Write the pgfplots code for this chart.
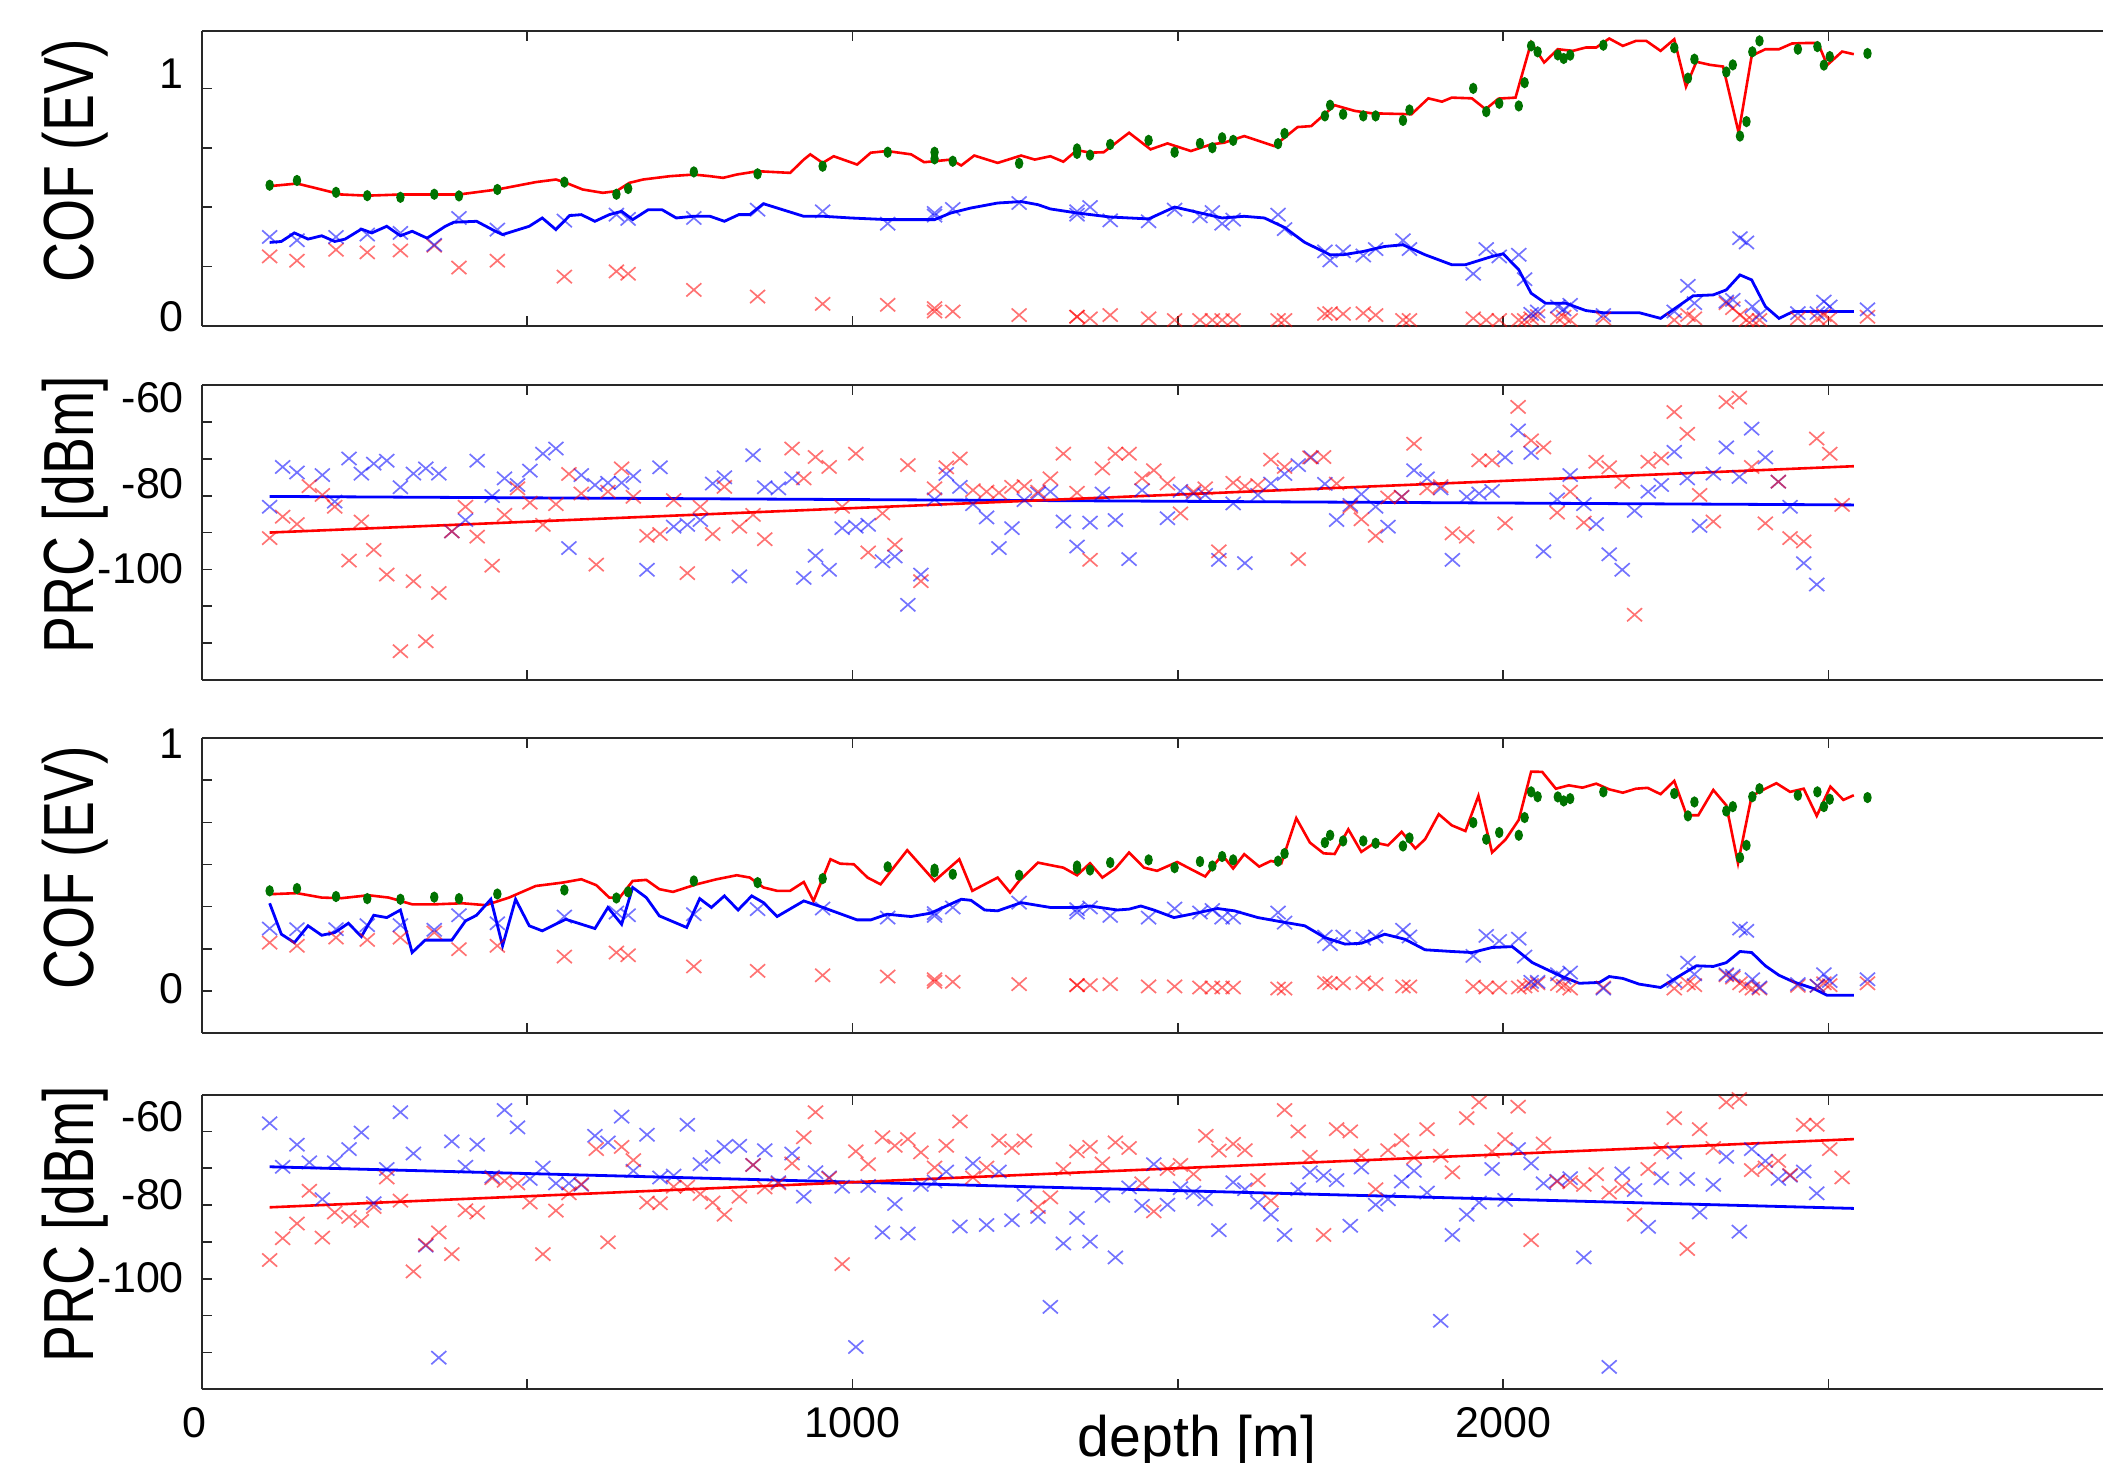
\documentclass[border=0pt]{standalone}
\usepackage{pgfplots}
\pgfplotsset{compat=1.18}
\usepackage{pgfplotstable}
\usepackage{fontspec}
\setmainfont{Liberation Sans}
\definecolor{cred}{RGB}{255,0,0}
\definecolor{cblue}{RGB}{0,0,255}
\definecolor{cgreen}{RGB}{0,115,0}
\definecolor{cframe}{RGB}{40,40,40}

% depth, green/blue/red for COF panel 1 and panel 3
\pgfplotstableread{
d g1 b1 r1 g3 b3 r3
104 0.593 0.375 0.293 0.475 0.296 0.229
146 0.613 0.361 0.275 0.486 0.293 0.214
206 0.563 0.375 0.321 0.448 0.293 0.253
254 0.549 0.385 0.310 0.438 0.312 0.242
305 0.542 0.392 0.318 0.435 0.312 0.253
357 0.555 0.342 0.338 0.445 0.290 0.277
395 0.548 0.455 0.246 0.438 0.359 0.198
454 0.575 0.406 0.275 0.460 0.321 0.214
557 0.606 0.444 0.208 0.479 0.353 0.163
637 0.555 0.469 0.230 0.441 0.372 0.182
655 0.579 0.451 0.220 0.470 0.359 0.169
756 0.649 0.455 0.152 0.522 0.364 0.116
854 0.641 0.490 0.124 0.514 0.388 0.095
954 0.673 0.483 0.093 0.533 0.391 0.074
1054 0.732 0.431 0.089 0.589 0.348 0.068
1126 0.732 0.476 0.075 0.578 0.369 0.055
1126 0.704 0.465 0.061 0.565 0.356 0.043
1154 0.694 0.493 0.061 0.554 0.396 0.043
1256 0.685 0.518 0.046 0.549 0.419 0.032
1345 0.746 0.483 0.039 0.593 0.372 0.027
1345 0.727 0.469 0.039 0.581 0.388 0.027
1365 0.720 0.501 0.032 0.574 0.396 0.027
1396 0.765 0.445 0.046 0.609 0.356 0.032
1455 0.782 0.441 0.032 0.622 0.348 0.021
1495 0.732 0.490 0.025 0.585 0.391 0.021
1534 0.769 0.462 0.025 0.614 0.372 0.016
1553 0.751 0.480 0.025 0.593 0.384 0.016
1568 0.793 0.431 0.025 0.638 0.348 0.016
1585 0.782 0.448 0.025 0.622 0.348 0.016
1654 0.768 0.469 0.025 0.616 0.372 0.011
1664 0.811 0.408 0.025 0.652 0.324 0.011
1726 0.885 0.314 0.051 0.704 0.258 0.040
1734 0.930 0.276 0.054 0.739 0.222 0.036
1754 0.892 0.314 0.051 0.712 0.258 0.036
1785 0.885 0.297 0.054 0.712 0.248 0.040
1804 0.885 0.324 0.046 0.701 0.258 0.032
1846 0.866 0.361 0.025 0.688 0.290 0.021
1856 0.910 0.324 0.025 0.726 0.258 0.021
1954 1.001 0.220 0.032 0.799 0.166 0.021
1974 0.903 0.324 0.025 0.720 0.261 0.016
1994 0.938 0.293 0.025 0.752 0.237 0.016
2024 0.927 0.300 0.025 0.739 0.248 0.016
2033 1.025 0.197 0.025 0.823 0.163 0.021
2043 1.180 0.051 0.032 0.945 0.043 0.027
2053 1.155 0.061 0.042 0.922 0.043 0.036
2084 1.142 0.082 0.032 0.921 0.079 0.032
2093 1.127 0.070 0.039 0.902 0.063 0.024
2103 1.141 0.089 0.025 0.913 0.087 0.011
2154 1.183 0.046 0.032 0.945 0.011 0.016
2263 1.172 0.061 0.025 0.937 0.047 0.011
2284 1.044 0.169 0.046 0.831 0.134 0.036
2294 1.124 0.096 0.032 0.897 0.079 0.027
2343 1.070 0.103 0.096 0.854 0.079 0.074
2353 1.100 0.110 0.075 0.875 0.071 0.063
2364 0.800 0.370 0.046 0.633 0.296 0.036
2374 0.861 0.352 0.025 0.691 0.285 0.024
2383 1.155 0.082 0.025 0.922 0.055 0.011
2394 1.201 0.046 0.025 0.960 0.016 0.011
2453 1.166 0.054 0.032 0.929 0.032 0.024
2483 1.177 0.054 0.032 0.945 0.024 0.024
2493 1.099 0.103 0.046 0.875 0.079 0.036
2502 1.135 0.082 0.032 0.910 0.047 0.027
2560 1.148 0.070 0.039 0.918 0.055 0.036
}\cof

\pgfplotstableread{
x y
104 -83.0
124 -72.2
146 -73.7
185 -74.4
204 -81.6
226 -69.9
245 -74.0
264 -71.3
284 -70.5
305 -77.7
325 -74.0
344 -72.6
364 -74.0
384 -89.7
405 -86.6
423 -70.5
446 -80.1
465 -75.3
485 -77.1
504 -73.2
524 -68.6
544 -67.2
564 -94.2
583 -74.4
604 -77.1
624 -76.5
645 -76.5
663 -74.7
684 -100.1
704 -72.3
725 -88.4
746 -87.9
766 -86.6
785 -76.7
803 -75.0
826 -101.9
847 -69.0
865 -77.7
886 -78.0
907 -75.3
925 -102.3
943 -96.3
964 -100.1
984 -88.8
1005 -88.4
1024 -87.9
1046 -97.8
1065 -96.5
1085 -109.6
1105 -101.4
1126 -81.0
1144 -74.1
1165 -77.6
1185 -82.3
1206 -85.9
1225 -94.2
1245 -88.8
1264 -81.2
1285 -79.4
1304 -78.9
1324 -87.0
1345 -93.8
1365 -87.3
1384 -79.4
1404 -86.6
1425 -97.2
1445 -78.5
1484 -86.1
1504 -78.7
1524 -79.4
1542 -79.8
1563 -97.4
1585 -82.1
1603 -98.3
1623 -79.8
1643 -76.7
1664 -74.1
1685 -71.7
1705 -69.6
1726 -76.8
1744 -86.6
1765 -82.5
1782 -79.6
1804 -83.0
1823 -88.4
1844 -80.3
1863 -73.1
1883 -75.3
1904 -78.0
1922 -97.4
1944 -80.3
1963 -79.4
1983 -78.7
2003 -69.6
2023 -62.3
2043 -68.4
2062 -95.1
2083 -81.0
2103 -74.4
2124 -82.3
2143 -87.7
2163 -95.9
2183 -100.1
2202 -84.1
2223 -78.9
2243 -77.1
2263 -68.1
2283 -75.3
2302 -88.2
2323 -74.0
2343 -66.9
2363 -74.9
2382 -61.8
2403 -69.6
2423 -76.2
2441 -83.0
2462 -98.3
2482 -104.1
}\prcBlueA

\pgfplotstableread{
x y
104 -91.5
124 -85.7
146 -87.7
165 -77.4
185 -79.8
204 -83.0
226 -97.6
245 -87.0
264 -94.7
284 -101.4
305 -122.2
325 -103.2
344 -119.5
364 -106.4
384 -89.7
405 -83.0
423 -91.1
446 -99.0
465 -85.2
485 -78.0
504 -81.9
524 -87.9
544 -82.3
564 -74.1
583 -79.4
606 -98.7
624 -78.9
645 -72.6
663 -80.3
684 -90.9
704 -90.4
725 -81.2
746 -101.0
766 -83.0
785 -90.4
803 -77.6
826 -88.4
847 -85.2
865 -91.8
907 -67.2
925 -75.3
943 -69.5
964 -72.2
984 -83.0
1005 -68.6
1024 -95.4
1046 -84.8
1065 -93.3
1085 -71.7
1105 -103.2
1126 -78.0
1144 -72.3
1165 -69.9
1185 -78.5
1206 -78.9
1225 -79.2
1245 -77.6
1264 -77.4
1285 -78.9
1304 -75.3
1324 -68.6
1345 -79.2
1365 -97.4
1384 -72.6
1404 -68.6
1425 -68.6
1445 -75.3
1463 -73.1
1484 -76.7
1504 -84.8
1524 -78.9
1542 -78.0
1563 -95.1
1585 -76.5
1603 -77.4
1623 -77.1
1643 -70.2
1664 -72.2
1685 -97.2
1703 -69.6
1724 -69.5
1744 -76.7
1765 -83.0
1782 -86.4
1804 -90.9
1823 -80.5
1844 -80.3
1863 -65.9
1883 -78.0
1904 -77.4
1922 -90.2
1944 -91.1
1963 -70.4
1983 -70.4
2003 -87.5
2023 -55.9
2043 -65.0
2062 -66.9
2083 -84.6
2103 -78.9
2124 -87.3
2143 -70.8
2163 -72.3
2183 -76.2
2202 -112.3
2223 -70.8
2243 -69.9
2263 -57.3
2283 -63.2
2302 -79.8
2323 -87.0
2343 -54.6
2363 -53.4
2382 -72.2
2403 -87.5
2423 -76.2
2441 -91.5
2462 -92.4
2482 -64.5
2502 -68.6
2521 -82.5
}\prcRedA

\pgfplotstableread{
x y
104 -57.8
124 -69.6
146 -63.6
165 -68.4
185 -78.4
204 -68.4
226 -64.8
245 -60.3
264 -79.5
284 -70.2
305 -54.8
325 -66.0
344 -91.0
364 -121.4
384 -62.7
405 -69.6
423 -63.6
446 -72.3
465 -54.2
485 -58.9
504 -72.9
524 -69.8
544 -74.1
564 -74.1
583 -74.5
604 -61.2
624 -63.0
645 -56.0
663 -70.7
684 -60.9
704 -72.5
725 -72.0
746 -58.2
766 -68.9
785 -66.9
803 -64.2
826 -63.9
847 -69.1
865 -65.1
886 -73.8
907 -66.0
925 -77.7
943 -71.1
964 -72.5
984 -75.0
1005 -118.5
1024 -74.8
1046 -87.4
1065 -79.7
1085 -87.7
1105 -74.5
1126 -73.6
1144 -70.9
1165 -85.8
1185 -68.7
1206 -85.4
1225 -70.9
1245 -84.1
1264 -77.2
1285 -83.2
1304 -107.6
1324 -90.4
1345 -83.5
1365 -89.9
1384 -77.5
1404 -94.2
1425 -75.2
1445 -80.2
1463 -68.9
1484 -79.9
1504 -75.4
1524 -76.6
1542 -78.4
1563 -86.8
1585 -73.8
1603 -75.7
1623 -79.3
1643 -82.6
1664 -88.1
1685 -75.7
1703 -71.1
1724 -72.0
1744 -73.2
1765 -85.6
1782 -69.8
1804 -79.9
1823 -78.4
1844 -73.6
1863 -70.7
1883 -76.6
1904 -111.4
1922 -88.1
1944 -82.6
1963 -79.3
1983 -70.2
2003 -78.6
2023 -64.8
2043 -68.7
2062 -74.1
2083 -73.4
2103 -72.7
2124 -94.2
2163 -123.9
2183 -71.4
2202 -75.9
2223 -85.9
2243 -72.7
2263 -65.7
2283 -72.9
2302 -82.0
2323 -74.5
2343 -66.9
2363 -87.2
2382 -64.8
2403 -68.0
2423 -72.9
2441 -72.0
2462 -70.9
2482 -76.8
}\prcBlueB

\pgfplotstableread{
x y
104 -94.9
124 -89.0
146 -85.0
165 -76.1
185 -88.8
204 -82.0
226 -83.2
245 -84.3
264 -80.5
284 -72.5
305 -78.8
325 -98.0
344 -90.8
364 -87.4
384 -93.3
405 -81.4
423 -82.0
446 -72.7
465 -73.4
485 -74.1
504 -79.3
524 -93.3
544 -81.5
564 -76.8
583 -74.3
606 -64.8
624 -90.1
645 -64.2
663 -67.8
684 -79.3
704 -79.5
725 -75.0
746 -75.0
766 -77.0
785 -79.3
803 -82.6
826 -77.7
847 -69.1
865 -75.2
886 -74.1
907 -68.7
925 -61.6
943 -54.8
964 -72.7
984 -96.0
1005 -65.4
1024 -68.9
1046 -61.6
1065 -63.9
1085 -62.1
1105 -65.7
1126 -69.8
1144 -63.9
1165 -57.3
1185 -72.5
1206 -69.8
1225 -62.5
1245 -64.5
1264 -62.5
1285 -80.5
1304 -77.9
1324 -70.2
1345 -65.4
1365 -64.2
1384 -68.7
1404 -63.0
1425 -64.5
1445 -74.1
1463 -81.7
1484 -70.2
1504 -69.1
1524 -71.6
1543 -61.2
1563 -65.2
1585 -63.4
1603 -65.1
1623 -73.2
1643 -78.8
1664 -54.2
1685 -60.0
1703 -66.9
1724 -88.1
1744 -59.4
1765 -60.0
1782 -66.6
1804 -75.7
1823 -65.1
1844 -62.4
1863 -67.1
1883 -59.4
1904 -66.6
1922 -71.1
1944 -56.4
1963 -52.1
1983 -65.4
2003 -62.1
2023 -53.3
2043 -89.5
2062 -63.3
2083 -73.6
2103 -73.8
2124 -74.5
2143 -71.6
2163 -76.6
2183 -75.0
2202 -82.6
2223 -70.2
2243 -64.8
2263 -56.4
2283 -91.9
2302 -59.4
2323 -64.5
2343 -52.1
2363 -51.2
2382 -70.5
2403 -69.8
2423 -68.0
2441 -71.8
2462 -58.2
2482 -58.2
2502 -64.8
2521 -72.5
}\prcRedB

\pgfplotsset{
  panel/.style={
    scale only axis, width=475.25pt, height=73.7pt,
    xmin=0, xmax=2922,
    anchor=south west,
    axis x line*=box, axis y line*=left,
    axis line style={draw=cframe, line width=0.5pt},
    tick align=inside, major tick length=2.5pt,
    tick style={draw=cframe, line width=0.4pt},
    xtick={0,500,1000,1500,2000,2500},
    xticklabels={},
    yticklabels={},
    tick label style={font=\fontsize{10.75}{12}\selectfont},
    yticklabel style={xshift=-1pt},
    extra y tick style={tick style={draw=none}},
    every axis y label/.style={at={(axis description cs:-0.0668,0.56)}, rotate=90, anchor=center, font=\fontsize{17.75}{20}\selectfont},
  },
  xr/.style={only marks, mark=x, mark size=2.65pt, cred, opacity=0.55, mark options={line width=0.42pt, yscale=0.88}},
  xb/.style={only marks, mark=x, mark size=2.65pt, cblue, opacity=0.55, mark options={line width=0.42pt, yscale=0.88}},
  lr/.style={no marks, cred, line width=0.65pt},
  lb/.style={no marks, cblue, line width=0.7pt},
  gd/.style={only marks, mark=*, mark size=0.85pt, cgreen, mark options={yscale=1.4}},
}

\begin{document}
\begin{tikzpicture}
% ---------- panel 1 ----------
\begin{axis}[panel, at={(50.5pt,284.25pt)},
  ymin=0, ymax=1.242, ytick={0,0.25,0.5,0.75,1},
  extra y ticks={0.038,1.063}, extra y tick labels={0,1},
  ylabel={\scalebox{0.78}[1]{COF (EV)}}]
\addplot[xr] table[x=d,y=r1] {\cof};
\addplot[xb] table[x=d,y=b1] {\cof};
\addplot[lr] coordinates {(104,0.589)(146,0.600)(173,0.582)(214,0.554)(254,0.549)(307,0.554)(395,0.554)(454,0.575)(513,0.606)(544,0.617)(557,0.606)(585,0.575)(616,0.561)(637,0.568)(657,0.603)(678,0.617)(719,0.631)(756,0.638)(781,0.631)(801,0.624)(822,0.638)(854,0.652)(904,0.645)(925,0.701)(935,0.723)(954,0.687)(971,0.715)(1007,0.680)(1028,0.730)(1053,0.737)(1090,0.723)(1110,0.690)(1126,0.694)(1151,0.701)(1167,0.676)(1187,0.718)(1223,0.687)(1259,0.718)(1280,0.701)(1304,0.715)(1324,0.692)(1345,0.741)(1365,0.730)(1386,0.732)(1425,0.814)(1458,0.744)(1484,0.769)(1520,0.737)(1551,0.765)(1571,0.772)(1602,0.800)(1648,0.758)(1684,0.838)(1705,0.842)(1741,0.930)(1772,0.906)(1798,0.896)(1829,0.894)(1859,0.892)(1885,0.959)(1906,0.945)(1921,0.962)(1952,0.959)(1973,0.913)(1993,0.958)(2019,0.962)(2043,1.194)(2063,1.110)(2084,1.166)(2107,1.159)(2127,1.173)(2143,1.173)(2163,1.211)(2184,1.180)(2204,1.201)(2220,1.201)(2242,1.159)(2263,1.208)(2281,1.008)(2297,1.113)(2318,1.100)(2338,1.093)(2362,0.814)(2382,1.138)(2403,1.166)(2424,1.166)(2444,1.190)(2465,1.192)(2484,1.192)(2498,1.099)(2521,1.156)(2539,1.145)};
\addplot[lb] coordinates {(104,0.352)(122,0.356)(142,0.392)(163,0.366)(184,0.380)(204,0.356)(220,0.366)(245,0.408)(261,0.392)(284,0.420)(305,0.380)(323,0.399)(346,0.370)(374,0.420)(387,0.437)(422,0.441)(451,0.399)(462,0.385)(503,0.420)(523,0.455)(544,0.406)(565,0.465)(583,0.469)(604,0.441)(626,0.469)(645,0.483)(662,0.448)(686,0.490)(707,0.490)(729,0.455)(755,0.462)(781,0.462)(803,0.441)(825,0.469)(842,0.469)(863,0.515)(884,0.497)(925,0.462)(956,0.462)(997,0.455)(1053,0.448)(1126,0.448)(1151,0.476)(1182,0.497)(1223,0.518)(1259,0.524)(1285,0.511)(1304,0.493)(1345,0.476)(1396,0.459)(1455,0.451)(1495,0.501)(1530,0.479)(1568,0.455)(1602,0.462)(1633,0.455)(1664,0.415)(1695,0.352)(1734,0.300)(1754,0.300)(1785,0.314)(1818,0.335)(1846,0.342)(1880,0.300)(1921,0.258)(1942,0.258)(1983,0.293)(2000,0.304)(2024,0.237)(2043,0.138)(2065,0.096)(2096,0.096)(2127,0.065)(2153,0.056)(2209,0.056)(2242,0.032)(2261,0.068)(2292,0.127)(2323,0.131)(2343,0.152)(2364,0.215)(2382,0.194)(2403,0.082)(2424,0.032)(2446,0.061)(2477,0.061)(2539,0.061)};
\addplot[gd] table[x=d,y=g1] {\cof};
\end{axis}
% ---------- panel 2 ----------
\begin{axis}[panel, at={(50.5pt,195.75pt)},
  ymin=-130, ymax=-50, ytick={-120,-110,-100,-90,-80,-70,-60},
  extra y ticks={-53.5,-76.8,-99.7}, extra y tick labels={-60,-80,-100},
  ylabel={\scalebox{0.78}[1]{PRC [dBm]}}]
\addplot[xb] table {\prcBlueA};
\addplot[xr] table {\prcRedA};
\addplot[lb] coordinates {(104,-80.2)(2539,-82.5)};
\addplot[lr] coordinates {(104,-90.0)(2539,-72.0)};
\end{axis}
% ---------- panel 3 ----------
\begin{axis}[panel, at={(50.5pt,107.5pt)},
  ymin=-0.2, ymax=1.2, ytick={0,0.2,0.4,0.6,0.8,1},
  extra y ticks={0.012,1.175}, extra y tick labels={0,1},
  ylabel={\scalebox{0.78}[1]{COF (EV)}}]
\addplot[xr] table[x=d,y=r3] {\cof};
\addplot[xb] table[x=d,y=b3] {\cof};
\addplot[lr] coordinates {(104,0.459)(146,0.464)(184,0.443)(214,0.440)(256,0.454)(287,0.443)(323,0.411)(359,0.411)(400,0.416)(436,0.407)(472,0.443)(513,0.498)(554,0.514)(583,0.530)(606,0.502)(626,0.443)(642,0.443)(662,0.522)(683,0.527)(703,0.483)(724,0.470)(760,0.506)(791,0.530)(822,0.549)(842,0.538)(863,0.491)(884,0.475)(904,0.475)(925,0.517)(940,0.427)(966,0.625)(981,0.604)(1002,0.601)(1023,0.538)(1043,0.506)(1084,0.668)(1126,0.522)(1164,0.625)(1184,0.475)(1223,0.538)(1242,0.467)(1256,0.522)(1285,0.609)(1304,0.597)(1324,0.585)(1345,0.549)(1365,0.606)(1384,0.538)(1404,0.581)(1425,0.657)(1448,0.585)(1468,0.570)(1499,0.612)(1520,0.578)(1542,0.543)(1568,0.646)(1585,0.581)(1602,0.649)(1625,0.590)(1643,0.617)(1659,0.606)(1682,0.820)(1703,0.704)(1724,0.653)(1741,0.650)(1762,0.767)(1782,0.660)(1803,0.704)(1823,0.691)(1844,0.755)(1865,0.676)(1880,0.720)(1901,0.839)(1921,0.786)(1942,0.759)(1962,0.926)(1983,0.657)(2004,0.720)(2024,0.812)(2043,1.041)(2060,1.040)(2081,0.960)(2101,0.976)(2122,0.965)(2143,0.984)(2163,0.957)(2184,0.941)(2204,0.960)(2222,0.964)(2242,0.934)(2263,0.997)(2282,0.834)(2300,0.834)(2323,0.954)(2343,0.881)(2361,0.606)(2382,0.926)(2403,0.960)(2420,0.986)(2441,0.945)(2462,0.960)(2482,0.831)(2503,0.970)(2523,0.907)(2539,0.929)};
\addplot[lb] coordinates {(104,0.416)(122,0.269)(142,0.229)(163,0.309)(184,0.264)(204,0.277)(225,0.321)(245,0.258)(264,0.359)(284,0.348)(305,0.384)(323,0.182)(343,0.241)(384,0.241)(405,0.332)(422,0.359)(444,0.435)(462,0.214)(482,0.435)(503,0.309)(523,0.285)(559,0.340)(604,0.296)(624,0.396)(645,0.316)(662,0.491)(683,0.443)(703,0.356)(745,0.301)(765,0.438)(783,0.396)(803,0.451)(824,0.384)(845,0.451)(863,0.419)(884,0.353)(925,0.427)(951,0.400)(1007,0.337)(1028,0.337)(1053,0.364)(1069,0.359)(1090,0.353)(1120,0.369)(1167,0.435)(1182,0.430)(1203,0.384)(1223,0.380)(1259,0.419)(1304,0.396)(1345,0.396)(1365,0.403)(1407,0.384)(1425,0.388)(1443,0.403)(1463,0.384)(1494,0.348)(1520,0.364)(1561,0.391)(1587,0.380)(1623,0.348)(1659,0.328)(1695,0.309)(1726,0.253)(1757,0.222)(1782,0.226)(1818,0.269)(1849,0.245)(1880,0.195)(1921,0.187)(1952,0.182)(1983,0.206)(2014,0.210)(2045,0.134)(2086,0.074)(2117,0.036)(2148,0.040)(2163,0.068)(2184,0.059)(2209,0.032)(2242,0.016)(2271,0.071)(2297,0.119)(2323,0.116)(2343,0.134)(2364,0.187)(2382,0.182)(2403,0.119)(2424,0.074)(2446,0.043)(2477,0.011)(2498,-0.021)(2539,-0.021)};
\addplot[gd] table[x=d,y=g3] {\cof};
\end{axis}
% ---------- panel 4 ----------
\begin{axis}[panel, at={(50.5pt,18.4pt)},
  ymin=-130, ymax=-50, ytick={-120,-110,-100,-90,-80,-70,-60},
  extra y ticks={-56.0,-77.1,-99.8}, extra y tick labels={-60,-80,-100},
  xticklabels={\hspace*{-4pt}0,,1000,,2000,},
  xticklabel style={yshift=-1pt},
  xlabel={depth [m]},
  xlabel style={at={(axis description cs:0.5234,0)}, anchor=base, yshift=-16.8pt, font=\fontsize{14.3}{16}\selectfont},
  ylabel={\scalebox{0.78}[1]{PRC [dBm]}}]
\addplot[xb] table {\prcBlueB};
\addplot[xr] table {\prcRedB};
\addplot[lb] coordinates {(104,-69.6)(2539,-80.9)};
\addplot[lr] coordinates {(104,-80.6)(2539,-62.1)};
\end{axis}
\pgfresetboundingbox
\useasboundingbox (0,0) rectangle (525.75pt,365.75pt);
\end{tikzpicture}
\end{document}
